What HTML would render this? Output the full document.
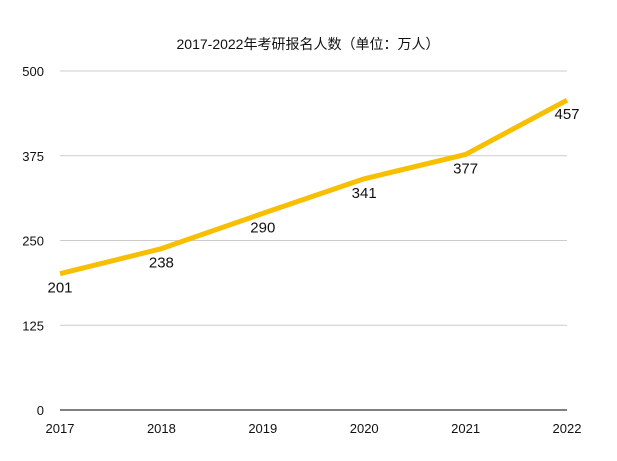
<!DOCTYPE html>
<html><head><meta charset="utf-8"><style>
html,body{margin:0;padding:0;background:#fff;}
svg{display:block;font-family:"Liberation Sans","Noto Sans CJK SC",sans-serif;}
</style></head><body>
<svg id="chart" width="617" height="461" viewBox="0 0 617 461" xmlns="http://www.w3.org/2000/svg">
<text x="308" y="49" text-anchor="middle" font-size="14" fill="#111">2017-2022年考研报名人数（单位：万人）</text>
<g id="grid"></g><g id="yticks"></g><g id="xticks"></g><g id="series"></g><g id="labels"></g>
</svg>
<script>
const categories = ["2017","2018","2019","2020","2021","2022"];
const values = [201, 238, 290, 341, 377, 457];
const yTicks = [0, 125, 250, 375, 500];
const NS = "http://www.w3.org/2000/svg";
const x0 = 60, x1 = 567, yBase = 410, yTop = 71, yMax = 500;
function xs(i){ return x0 + (x1 - x0) * i / (categories.length - 1); }
function ys(v){ return yBase - (yBase - yTop) * v / yMax; }
function mk(tag, attrs, parent){ const e = document.createElementNS(NS, tag); for (const k in attrs) e.setAttribute(k, attrs[k]); parent.appendChild(e); return e; }
const grid = document.getElementById('grid'), yt = document.getElementById('yticks'), xt = document.getElementById('xticks'), ser = document.getElementById('series'), lab = document.getElementById('labels');
yTicks.forEach(t => {
  const l = mk('line', {x1: x0, x2: x1, y1: ys(t), y2: ys(t), stroke: t === 0 ? '#000' : '#ccc', 'stroke-width': 1}, grid);
  
  
  const tx = mk('text', {x: 44, y: ys(t) + 5, 'text-anchor': 'end', 'font-size': 13, fill: '#111'}, yt);
  tx.textContent = t;
  
  
});
categories.forEach((c, i) => {
  const tx = mk('text', {x: xs(i), y: 433, 'text-anchor': 'middle', 'font-size': 13, fill: '#111'}, xt);
  tx.textContent = c;
  
  
});
const pts = values.map((v, i) => xs(i) + ',' + ys(v)).join(' ');
const pl = mk('polyline', {points: pts, fill: 'none', stroke: '#F7BF00', 'stroke-width': 5, 'stroke-linejoin': 'round'}, ser);


values.forEach((v, i) => {
  const tx = mk('text', {x: xs(i), y: ys(v) + 19, 'text-anchor': 'middle', 'font-size': 15, fill: '#111'}, lab);
  tx.textContent = v;
  
  
});
</script>
</body></html>
